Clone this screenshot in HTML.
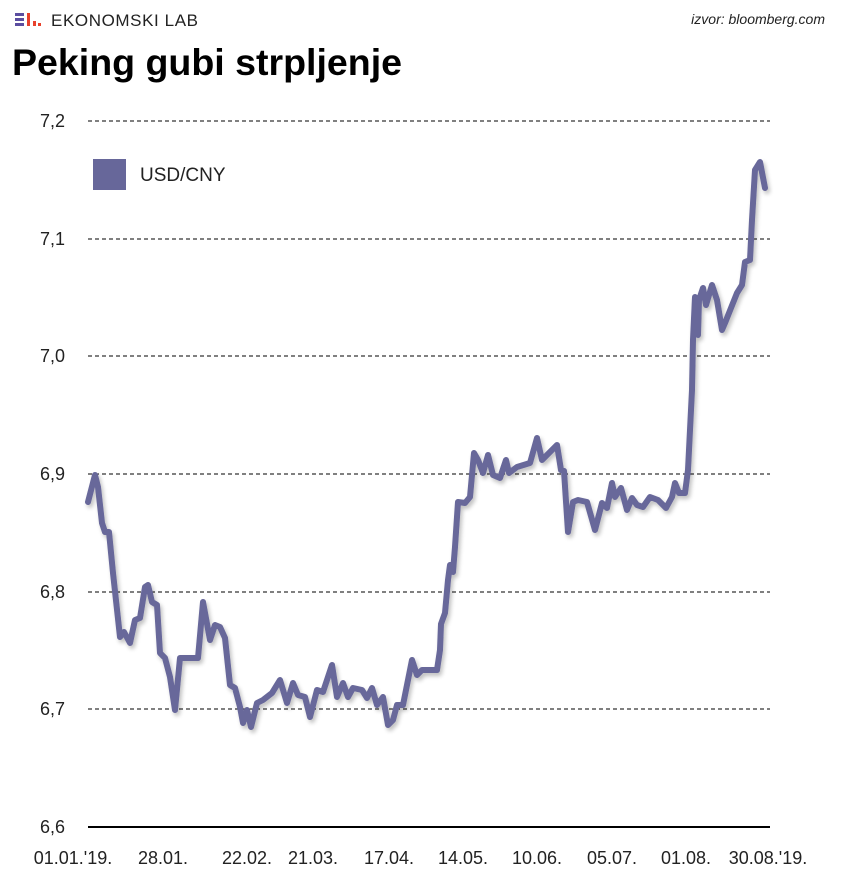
<!DOCTYPE html>
<html><head><meta charset="utf-8"><style>
body{margin:0;background:#fff;width:845px;height:885px;overflow:hidden;font-family:"Liberation Sans",sans-serif;}
</style></head><body>
<svg width="845" height="885" xmlns="http://www.w3.org/2000/svg" font-family="Liberation Sans, sans-serif">
<defs><filter id="sh" x="-5%" y="-5%" width="110%" height="110%"><feGaussianBlur in="SourceAlpha" stdDeviation="2"/><feOffset dx="2" dy="3"/><feComponentTransfer><feFuncA type="linear" slope="0.25"/></feComponentTransfer><feMerge><feMergeNode/><feMergeNode in="SourceGraphic"/></feMerge></filter></defs>
<rect x="15" y="13" width="9" height="3" fill="#5b4ea0"/><rect x="15" y="18" width="9" height="3" fill="#5b4ea0"/><rect x="15" y="23" width="9" height="3" fill="#5b4ea0"/>
<rect x="27" y="13" width="3" height="13" fill="#e8412c"/><rect x="33" y="21" width="3" height="5" fill="#e8412c"/><rect x="38" y="23" width="3" height="3" fill="#e8412c"/>
<text x="51" y="26" font-size="17" fill="#222" letter-spacing="0.6">EKONOMSKI LAB</text>
<text x="825" y="24" font-size="14" font-style="italic" fill="#222" text-anchor="end">izvor: bloomberg.com</text>
<text x="12" y="75" font-size="37" font-weight="bold" fill="#000" textLength="390" lengthAdjust="spacingAndGlyphs">Peking gubi strpljenje</text>
<g stroke="#000" stroke-width="1" stroke-dasharray="4,3">
<line x1="88" y1="121" x2="770" y2="121"/><line x1="88" y1="239" x2="770" y2="239"/><line x1="88" y1="356" x2="770" y2="356"/><line x1="88" y1="474" x2="770" y2="474"/><line x1="88" y1="592" x2="770" y2="592"/><line x1="88" y1="709" x2="770" y2="709"/>
</g>
<line x1="88" y1="827" x2="770" y2="827" stroke="#000" stroke-width="2"/>
<g font-size="18" fill="#222" text-anchor="end">
<text x="65" y="127">7,2</text><text x="65" y="245">7,1</text><text x="65" y="362">7,0</text><text x="65" y="480">6,9</text><text x="65" y="598">6,8</text><text x="65" y="715">6,7</text><text x="65" y="833">6,6</text>
</g>
<g font-size="18" fill="#222" text-anchor="middle">
<text x="73" y="864">01.01.'19.</text><text x="163" y="864">28.01.</text><text x="247" y="864">22.02.</text><text x="313" y="864">21.03.</text><text x="389" y="864">17.04.</text><text x="463" y="864">14.05.</text><text x="537" y="864">10.06.</text><text x="612" y="864">05.07.</text><text x="686" y="864">01.08.</text><text x="768" y="864">30.08.'19.</text>
</g>
<rect x="93" y="159" width="33" height="31" fill="#67679a"/>
<text x="140" y="181" font-size="19" fill="#222">USD/CNY</text>
<polyline filter="url(#sh)" fill="none" stroke="#67679a" stroke-width="6" stroke-linejoin="round" stroke-linecap="round" points="88,502 95,475 98,487 102,523 105,532 109,532 113,573 120,637 124,632 130,643 135,620 140,618 145,587 148,585 152,602 157,605 160,653 165,658 170,677 175,710 180,658 198,658 203,602 210,640 215,625 220,627 225,638 230,685 235,688 240,707 243,723 247,710 251,727 257,703 263,700 272,693 280,680 287,703 293,683 298,695 305,697 310,717 317,690 323,692 332,665 337,697 343,683 348,697 353,688 362,690 367,698 372,688 377,705 383,697 388,725 393,720 397,705 403,705 412,660 417,675 422,670 437,670 440,650 441,624 445,613 448,580 450,565 453,572 455,547 458,502 465,503 470,497 474,453 478,460 483,473 488,455 493,475 500,478 506,460 509,473 517,467 530,463 537,438 542,460 557,445 561,470 564,471 568,532 573,502 578,500 587,502 595,530 602,503 607,508 612,483 615,497 621,488 627,510 632,498 637,505 643,507 650,497 658,500 666,508 672,497 675,483 679,493 685,493 688,470 692,390 693,340 695,297 698,335 699,300 703,288 706,305 712,285 717,300 722,330 725,323 737,293 742,285 745,262 750,260 752,220 755,170 760,162 765,188"/>
</svg>
</body></html>
